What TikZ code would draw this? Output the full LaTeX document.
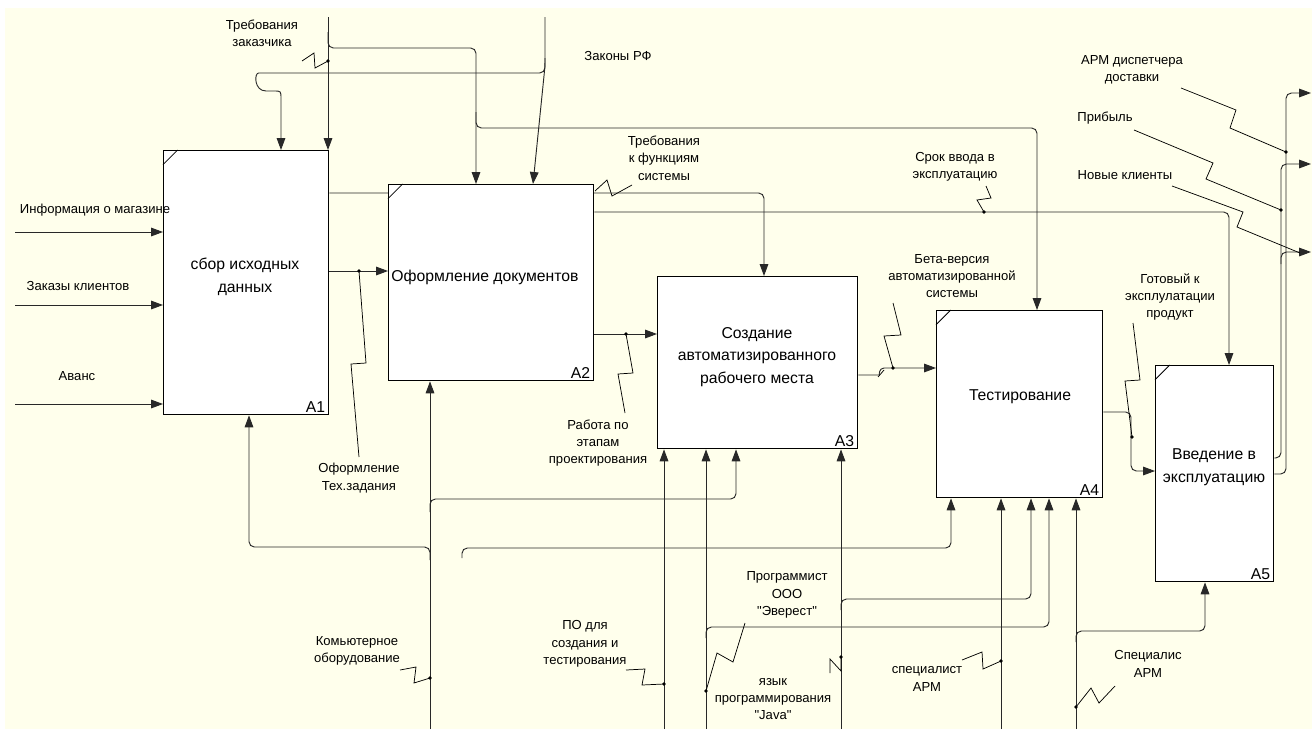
\documentclass[tikz,border=0pt]{standalone}
\usepackage{fontspec}
\newfontfamily\lsans{Liberation Sans}
\usetikzlibrary{arrows.meta}
\definecolor{cream}{RGB}{255,255,236}
\definecolor{wirecol}{RGB}{40,40,40}
\pgfdeclarelayer{back}
\pgfdeclarelayer{wires}
\pgfsetlayers{back,wires,main}
\begin{document}
\begin{tikzpicture}[x=0.75pt,y=-0.75pt,
 box/.style={draw=black,line width=1pt,fill=white,anchor=north west,inner sep=0pt},
 btext/.style={font=\lsans\fontsize{11.8}{17}\selectfont,align=center,inner sep=0pt},
 lbl/.style={font=\lsans\fontsize{9.8}{13}\selectfont,align=center,inner sep=0pt},
 num/.style={font=\lsans\fontsize{11.8}{14}\selectfont,anchor=south east,inner sep=0pt},
 arr/.style={draw=wirecol,line width=0.7pt,rounded corners=4pt,-{Triangle[length=9pt,width=6.5pt]}},
 sq/.style={draw=black,line width=0.55pt},
 corner/.style={draw=black,line width=0.6pt}
]
\useasboundingbox (0,0) rectangle (1312,729);
\begin{pgfonlayer}{back}
\fill[white] (0,0) rectangle (1312,729);
\fill[cream] (5,8) rectangle (1312,729);
\end{pgfonlayer}

% boxes
\node[box,minimum width=123.75pt,minimum height=198pt] (A1) at (163,150) {};
\node[box,minimum width=153.75pt,minimum height=147pt] (A2) at (388,184) {};
\node[box,minimum width=150pt,minimum height=129pt] (A3) at (657,276) {};
\node[box,minimum width=124.5pt,minimum height=140.25pt] (A4) at (936,310) {};
\node[box,minimum width=88.5pt,minimum height=162pt] (A5) at (1155,365) {};

\draw[corner] ([yshift=-11pt]A1.north west) -- ([xshift=11pt]A1.north west);
\draw[corner] ([yshift=-11pt]A2.north west) -- ([xshift=11pt]A2.north west);
\draw[corner] ([yshift=-11pt]A4.north west) -- ([xshift=11pt]A4.north west);
\draw[corner] ([yshift=-11pt]A5.north west) -- ([xshift=11pt]A5.north west);

\node[btext] (A1t) at (245,277) {сбор исходных\\данных};
\node[btext] (A2t) at (485,277) {Оформление документов};
\node[btext] (A3t) at (757,357) {Создание\\автоматизированного\\рабочего места};
\node[btext] (A4t) at (1020,397) {Тестирование};
\node[btext] (A5t) at (1214,467) {Введение в\\эксплуатацию};

\node[num] (A1n) at ([xshift=-3pt,yshift=2pt]A1.south east) {A1};
\node[num] (A2n) at ([xshift=-3pt,yshift=2pt]A2.south east) {A2};
\node[num] (A3n) at ([xshift=-3pt,yshift=2pt]A3.south east) {A3};
\node[num] (A4n) at ([xshift=-3pt,yshift=2pt]A4.south east) {A4};
\node[num] (A5n) at ([xshift=-3pt,yshift=2pt]A5.south east) {A5};

\begin{pgfonlayer}{wires}
% inputs of A1
\coordinate (i1) at (15,232);
\coordinate (i2) at (15,305);
\coordinate (i3) at (15,404);
\draw[arr] (i1) -- (i1 -| A1.west);
\draw[arr] (i2) -- (i2 -| A1.west);
\draw[arr] (i3) -- (i3 -| A1.west);
% Требования заказчика
\coordinate (tz) at (328,17);
\draw[arr] (tz) -- (tz |- A1.north);
\draw[arr] (328,32) -- (328,48) -- (476,48) -- (476,0 |- A2.north);
\draw[arr] (476,112) -- (476,128) -- (1037,128) -- (1037,0 |- A4.north);
% Законы РФ
\coordinate (zr) at (545,17);
\draw[arr] (zr) -- (545,66) -- (533,0 |- A2.north);
\draw[arr] (545,58) -- (545,73) -- (264,73) [sharp corners] .. controls (254,73) and (254,91) .. (266,91) -- (274,91) .. controls (281,91) .. (281,99) -- (281,0 |- A1.north);
% A1 outputs
\draw[arr] (A1.east |- 0,193) -- (764,193) -- (764,0 |- A3.north);
\draw[arr] (A1.east |- 0,271) -- (A2.west |- 0,271);
% A2 outputs
\draw[arr] (A2.east |- 0,212) -- (1229,212) -- (1229,0 |- A5.north);
\draw[arr] (A2.east |- 0,334) -- (A3.west |- 0,334);
% mechanisms from Комьютерное оборудование
\coordinate (ko) at (430,729);
\draw[arr] (ko) -- (ko |- A2.south);
\draw[arr] (430,512) -- (430,499) -- (736,499) -- (736,0 |- A3.south);
\draw[arr] (430,560) -- (430,547) -- (249,547) -- (249,0 |- A1.south);
\draw[arr] (462,558) -- (462,548) -- (951,548) -- (951,0 |- A4.south);
% A3 mechanisms
\coordinate (po) at (664,729);
\draw[arr] (po) -- (po |- A3.south);
\coordinate (jv) at (706,729);
\draw[arr] (jv) -- (jv |- A3.south);
\draw[arr] (706,638) -- (706,627) -- (1049,627) -- (1049,0 |- A4.south);
\coordinate (pr) at (841,729);
\draw[arr] (pr) -- (pr |- A3.south);
\draw[arr] (841,610) -- (841,599) -- (1031,599) -- (1031,0 |- A4.south);
% A4 mechanisms
\coordinate (sa) at (1001,729);
\draw[arr] (sa) -- (sa |- A4.south);
\coordinate (sb) at (1076,729);
\draw[arr] (sb) -- (sb |- A4.south);
\draw[arr] (1076,642) -- (1076,631) -- (1205,631) -- (1205,0 |- A5.south);
% A3 -> A4
\draw[arr] (A3.east |- 0,375) -- (874,375) [sharp corners] .. controls (879,375) and (879,368) .. (884,368) -- (A4.west |- 0,368);
\draw[sq] (878,377) -- (884,370);
% A4 -> A5
\draw[arr] (A4.east |- 0,412) -- (1131,412) -- (1131,471) -- (A5.west |- 0,471);
% A5 outputs
\coordinate (o1) at (1311,93);
\coordinate (o2) at (1311,164);
\coordinate (o3) at (1311,252);
\draw[arr] (A5.east |- 0,474) -- (1286,474) -- (1286,93) -- (o1);
\draw[arr] (A5.east |- 0,458) -- (1281,458) -- (1281,164) -- (o2);
\draw[arr] (1281,264) -- (1281,252) -- (o3);
\end{pgfonlayer}

% labels
\node[lbl] (l1) at (95,210) {Информация о магазине};
\node[lbl] (l2) at (78,286) {Заказы клиентов};
\node[lbl] (l3) at (77,376) {Аванс};
\node[lbl] (l4) at (262,33) {Требования\\заказчика};
\node[lbl] (l5) at (618,56) {Законы РФ};
\node[lbl] (l6) at (664,158) {Требования\\к функциям\\системы};
\node[lbl] (l7) at (955,167) {Срок ввода в\\эксплуатацию};
\node[lbl] (l8) at (952,276) {Бета-версия\\автоматизированной\\системы};
\node[lbl] (l9) at (1170,297) {Готовый к\\эксплулатации\\продукт};
\node[lbl] (l10) at (1132,70) {АРМ диспетчера\\доставки};
\node[lbl] (l11) at (1105,118) {Прибыль};
\node[lbl] (l12) at (1125,175) {Новые клиенты};
\node[lbl] (l13) at (359,478) {Оформление\\Тех.задания};
\node[lbl] (l14) at (598,443) {Работа по\\этапам\\проектирования};
\node[lbl] (l15) at (357,651) {Комьютерное\\оборудование};
\node[lbl] (l16) at (585,644) {ПО для\\создания и\\тестирования};
\node[lbl] (l17) at (787,595) {Программист\\ООО\\"Эверест"};
\node[lbl] (l18) at (773,699) {язык\\программирования\\"Java"};
\node[lbl] (l19) at (927,679) {специалист\\АРМ};
\node[lbl] (l20) at (1148,664) {Специалис\\АРМ};

% squiggles
\draw[sq] (302,61) -- (314,53) -- (315,68) -- (328,61);
\draw[sq] (632,185) -- (612,196) -- (607,180) -- (595,191);
\draw[sq] (986,186) -- (991,198) -- (977,200) -- (984,212);
\draw[sq] (893,303) -- (901,335) -- (884,336) -- (893,368);
\draw[sq] (1133,323) -- (1140,380) -- (1125,381) -- (1132,437);
\draw[sq] (1181,88) -- (1236,110) -- (1230,128) -- (1286,152);
\draw[sq] (1134,130) -- (1213,163) -- (1206,179) -- (1281,210);
\draw[sq] (1172,186) -- (1243,212) -- (1237,227) -- (1300,253);
\draw[sq] (359,457) -- (351,364) -- (366,363) -- (359,271);
\draw[sq] (625,413) -- (618,374) -- (633,373) -- (626,334);
\draw[sq] (400,670) -- (416,667) -- (414,683) -- (430,678);
\draw[sq] (626,670) -- (645,669) -- (642,685) -- (664,684);
\draw[sq] (745,623) -- (733,662) -- (717,653) -- (706,691);
\draw[sq] (830,673) -- (830,659) -- (841,671) -- (841,657);
\draw[sq] (962,660) -- (982,652) -- (983,669) -- (1001,661);
\draw[sq] (1115,686) -- (1099,703) -- (1091,688) -- (1076,707);

% dots
\foreach \p in {(328,61),(984,212),(893,368),(1132,437),(1286,152),(1281,210),(359,271),(626,334),(430,678),(664,684),(706,691),(841,657),(1001,661),(1076,707)}
  \fill \p circle[radius=1.4pt];
\end{tikzpicture}
\end{document}
